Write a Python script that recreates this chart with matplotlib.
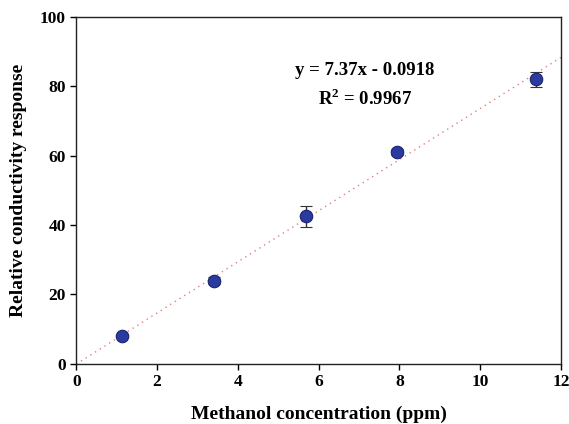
import numpy as np
import matplotlib
matplotlib.use("Agg")
import matplotlib.pyplot as plt

# data
conc = [1.13, 3.40, 5.68, 7.95, 11.38]
response = [8.0, 24.0, 42.5, 61.0, 82.0]
err = [0.4, 1.0, 3.0, 0.8, 2.2]

slope = 7.37
intercept = -0.0918

plt.rcParams["font.family"] = ["Liberation Serif", "DejaVu Serif"]
plt.rcParams["font.weight"] = "bold"
plt.rcParams["mathtext.fontset"] = "custom"
plt.rcParams["mathtext.rm"] = "Liberation Serif:bold"
plt.rcParams["mathtext.bf"] = "Liberation Serif:bold"

fig = plt.figure(figsize=(5.69, 4.24), dpi=100)
ax = fig.add_axes([0.134, 0.142, 0.852, 0.818])

# trendline
xfit = np.array([0, 12])
ax.plot(xfit, slope * xfit + intercept, linestyle=(0, (1, 3)), color="#e08080", lw=1.0)

ax.errorbar(conc, response, yerr=err, fmt="o", color="#2b3a9e", mec="#1a2370",
            mew=0.8, ms=9, ecolor="#333333", elinewidth=1.0, capsize=4.5, capthick=1.0,
            zorder=3)

ax.text(7.15, 84.5, "y = 7.37x - 0.0918", ha="center", va="center",
        fontsize=13.5, fontweight="bold")
ax.text(7.15, 76.5, r"R$^{\mathbf{2}}$ = 0.9967", ha="center", va="center",
        fontsize=13.5, fontweight="bold")

ax.set_xlim(0, 12)
ax.set_ylim(0, 100)
ax.set_xticks([0, 2, 4, 6, 8, 10, 12])
ax.set_yticks([0, 20, 40, 60, 80, 100])
ax.tick_params(direction="out", length=4, width=1, labelsize=12.5)
for lab in ax.get_xticklabels() + ax.get_yticklabels():
    lab.set_fontweight("bold")
for s in ax.spines.values():
    s.set_linewidth(1.0)
    s.set_color("#222222")

ax.set_xlabel("Methanol concentration (ppm)", fontsize=14, fontweight="bold", labelpad=11)
ax.set_ylabel("Relative conductivity response", fontsize=14, fontweight="bold", labelpad=9)

plt.savefig("out.png", dpi=100)
